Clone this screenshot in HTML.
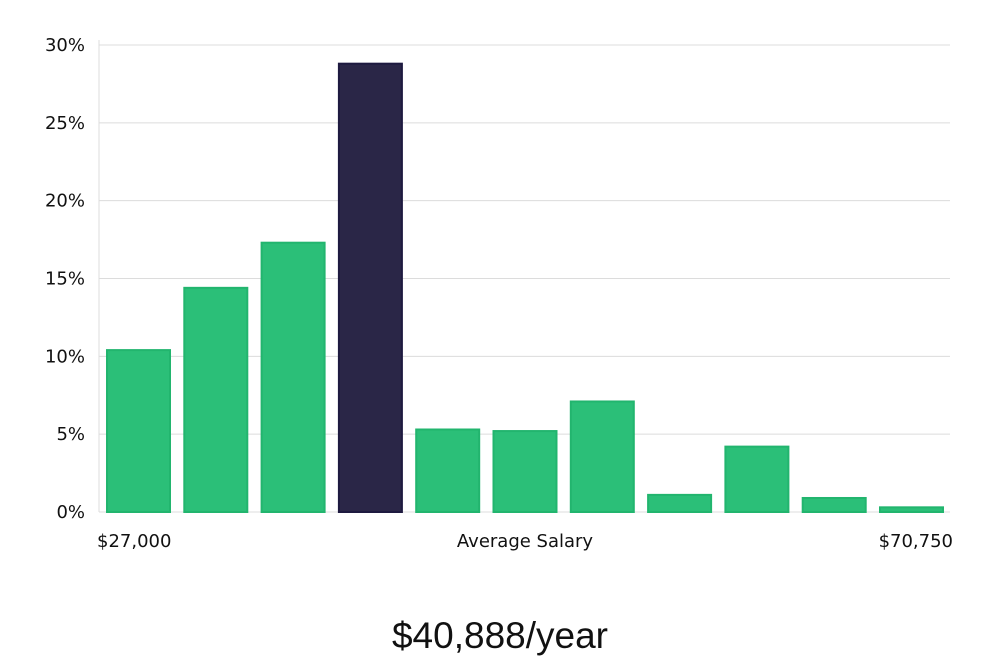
<!DOCTYPE html>
<html><head><meta charset="utf-8"><style>
body{margin:0;background:#fff;width:1000px;height:660px;overflow:hidden;font-family:"DejaVu Sans","Liberation Sans",sans-serif;}
</style></head><body>
<svg id="chart" width="1000" height="660" xmlns="http://www.w3.org/2000/svg"></svg>
<script>
const categories=["b1","b2","b3","b4","b5","b6","b7","b8","b9","b10","b11"];
const values=[10.4,14.4,17.3,28.8,5.3,5.2,7.1,1.1,4.2,0.9,0.3];
const highlight=[false,false,false,true,false,false,false,false,false,false,false];
const yTicks=[0,5,10,15,20,25,30];
const yTickLabels=["0%","5%","10%","15%","20%","25%","30%"];
const NS="http://www.w3.org/2000/svg";
const svg=document.getElementById('chart');
const x0=99,x1=950,yBase=512,yTop=45,yMax=30;
const y=v=>yBase-(v/yMax)*(yBase-yTop);
const step=(x1-x0+4)/categories.length;
const bw=63;
const bx=i=>107+i*77.3;
function mk(t,a){const e=document.createElementNS(NS,t);for(const k in a)e.setAttribute(k,a[k]);svg.appendChild(e);return e;}
yTicks.forEach((t,i)=>{
  const g=mk('line',{x1:x0,x2:x1,y1:y(t),y2:y(t),stroke:'#dcdcdc','stroke-width':1});
  
  
  const l=mk('text',{x:85,y:y(t)+6,'text-anchor':'end','font-size':18,fill:'#111'});
  l.textContent=yTickLabels[i];
  
  
});
const ax=mk('line',{x1:x0,x2:x0,y1:40,y2:yBase,stroke:'#dcdcdc','stroke-width':1});


values.forEach((v,i)=>{
  const r=mk('rect',{x:bx(i),y:y(v),width:bw,height:yBase-y(v),fill:highlight[i]?'#2a2647':'#2bbf78',stroke:highlight[i]?'#1e1a40':'#22b56e','stroke-width':2});
  
  
});
function txt(s,x,yy,size,anchor,name,extra){const t=mk('text',Object.assign({x:x,y:yy,'font-size':size,'text-anchor':anchor,fill:'#111'},extra||{}));t.textContent=s;return t;}
txt('$27,000',97,547,18,'start','x-min-label');
txt('Average Salary',525,547,18,'middle','x-axis-title');
txt('$70,750',953,547,18,'end','x-max-label');
txt('$40,888/year',500,648,37,'middle','average-salary-value',{'font-weight':'300','font-family':'"Liberation Sans",sans-serif'});
</script>
</body></html>
